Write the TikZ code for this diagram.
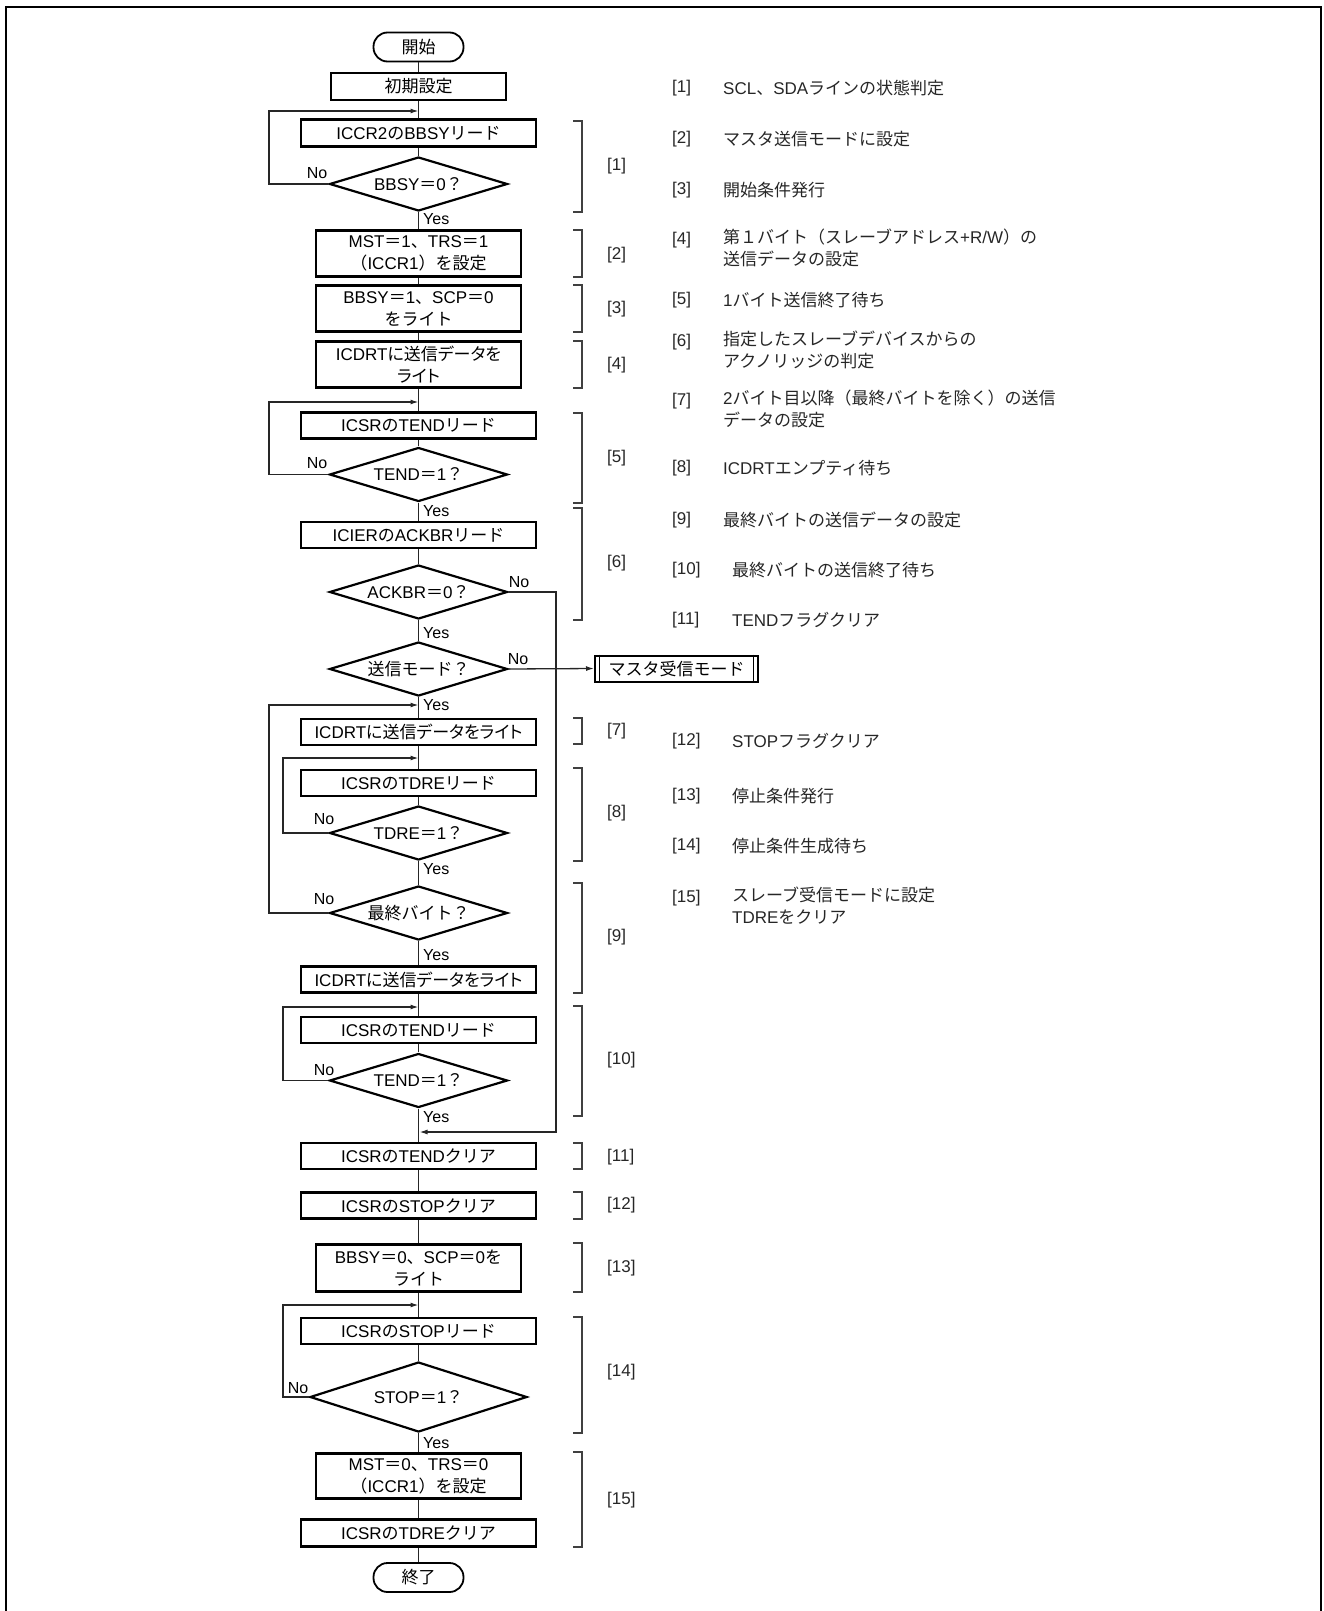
\documentclass[tikz,border=0pt]{standalone}
\usepackage{fontspec}
\setmainfont{Liberation Sans}
\newfontfamily\jpnormal{Noto Sans CJK JP}
\newfontfamily\jppalt{Noto Sans CJK JP}[RawFeature=+palt]
\usetikzlibrary{arrows.meta,shapes.geometric}
\chardef\JPclass=37
\newcount\jpcnt
\jpcnt="3000
\loop\ifnum\jpcnt<"A000 \XeTeXcharclass\jpcnt=\JPclass \advance\jpcnt by 1 \repeat
\jpcnt="FF00
\loop\ifnum\jpcnt<"FFF0 \XeTeXcharclass\jpcnt=\JPclass \advance\jpcnt by 1 \repeat
\newcommand\jpsel{\jpnormal}
\newcommand\usepalt{\def\jpsel{\jppalt}}
\XeTeXinterchartoks 0 \JPclass = {\jpsel}
\XeTeXinterchartoks 4095 \JPclass = {\jpsel}
\XeTeXinterchartoks \JPclass 0 = {\rmfamily}
\XeTeXinterchartoks \JPclass 4095 = {\rmfamily}
\XeTeXinterchartokenstate=1
\tikzset{
  every node/.style={font=\fontsize{17}{22}\selectfont, inner sep=0pt},
  proc/.style={draw, line width=2.2pt, minimum height=27pt, align=center},
  wbox/.style={proc, minimum width=235pt},
  nbox/.style={proc, minimum width=205pt},
  paltf/.style={font=\fontsize{17}{22}\selectfont\usepalt},
  dec/.style={draw, diamond, line width=2.2pt, aspect=3.3, minimum width=178pt, minimum height=54pt},
  term/.style={draw, rounded corners=14pt, line width=1.8pt, minimum width=90pt, minimum height=29pt},
  conn/.style={line width=1.3pt, draw=black!85},
  arr/.style={conn, -{Latex[length=8pt,width=5pt]}},
  brk/.style={line width=1.1pt, draw=black!75},
  yn/.style={font=\fontsize{16}{18}\selectfont},
  blbl/.style={anchor=west, text=black!85},
  rtxt/.style={anchor=north west, align=left, text=black!85},
}
\begin{document}
\begin{tikzpicture}[x=1pt,y=-1pt]
\useasboundingbox (0,0) rectangle (1323,1611);
% outer frame
\draw[line width=2pt] (6,1625) -- (6,7) -- (1321,7) -- (1321,1625);

% main column
\node[term] (start) at (418.5,47) {開始};
\node[proc, minimum width=175pt] (init) at (418.5,86.5) {初期設定};
\node[wbox] (b1) at (418.5,133) {ICCR2のBBSYリード};
\node[dec] (d1) at (418.5,184) {BBSY＝0？};
\node[nbox, minimum height=46pt] (b2) at (418.5,253.5) {MST＝1、TRS＝1\\（ICCR1）を設定};
\node[nbox, minimum height=46pt] (b3) at (418.5,308.5) {BBSY＝1、SCP＝0\\をライト};
\node[nbox, minimum height=46pt, paltf] (b4) at (418.5,364.5) {ICDRTに送信データを\\ライト};
\node[wbox, minimum height=26pt] (b5) at (418.5,425.5) {ICSRのTENDリード};
\node[dec] (d5) at (418.5,474.5) {TEND＝1？};
\node[wbox, minimum height=26pt] (b6) at (418.5,535) {ICIERのACKBRリード};
\node[dec] (d6) at (418.5,592) {ACKBR＝0？};
\node[dec] (d6b) at (418.5,669) {送信モード？};
\node[draw, line width=2pt, minimum width=163pt, minimum height=26pt] (mrx) at (676.5,668.5) {マスタ受信モード};
\node[wbox, minimum height=26pt, paltf] (b7) at (418.5,732) {ICDRTに送信データをライト};
\node[wbox, minimum height=26pt] (b8) at (418.5,783) {ICSRのTDREリード};
\node[dec] (d8) at (418.5,833) {TDRE＝1？};
\node[dec] (d9) at (418.5,913) {最終バイト？};
\node[wbox, minimum height=26pt, paltf] (b9) at (418.5,979.5) {ICDRTに送信データをライト};
\node[wbox, minimum height=26pt] (b10) at (418.5,1030) {ICSRのTENDリード};
\node[dec] (d10) at (418.5,1080.5) {TEND＝1？};
\node[wbox, minimum height=26pt] (b11) at (418.5,1156) {ICSRのTENDクリア};
\node[wbox, minimum height=26pt] (b12) at (418.5,1205.5) {ICSRのSTOPクリア};
\node[nbox, minimum height=47pt] (b13) at (418.5,1268) {BBSY＝0、SCP＝0を\\ライト};
\node[wbox, minimum height=26pt] (b14) at (418.5,1331) {ICSRのSTOPリード};
\node[dec, minimum width=217pt, minimum height=70pt, aspect=3] (d14) at (418.5,1397) {STOP＝1？};
\node[nbox, minimum height=45pt] (b15a) at (418.5,1476) {MST＝0、TRS＝0\\（ICCR1）を設定};
\node[wbox] (b15b) at (418.5,1533) {ICSRのTDREクリア};
\node[term] (end) at (418.5,1577.5) {終了};

% predefined process inner lines
\draw[line width=1.6pt] ([xshift=5.5pt]mrx.north west) -- ([xshift=5.5pt]mrx.south west);
\draw[line width=1.6pt] ([xshift=-5.5pt]mrx.north east) -- ([xshift=-5.5pt]mrx.south east);

% main chain
\draw[conn] (start) -- (init);
\draw[conn] (init) -- (b1);
\draw[conn] (b1) -- (d1);
\draw[conn] (d1) -- (b2);
\draw[conn] (b2) -- (b3);
\draw[conn] (b3) -- (b4);
\draw[conn] (b4) -- (b5);
\draw[conn] (b5) -- (d5);
\draw[conn] (d5) -- (b6);
\draw[conn] (b6) -- (d6);
\draw[conn] (d6) -- (d6b);
\draw[conn] (d6b) -- (b7);
\draw[conn] (b7) -- (b8);
\draw[conn] (b8) -- (d8);
\draw[conn] (d8) -- (d9);
\draw[conn] (d9) -- (b9);
\draw[conn] (b9) -- (b10);
\draw[conn] (b10) -- (d10);
\draw[conn] (d10) -- (b11);
\draw[conn] (b11) -- (b12);
\draw[conn] (b12) -- (b13);
\draw[conn] (b13) -- (b14);
\draw[conn] (b14) -- (d14);
\draw[conn] (d14) -- (b15a);
\draw[conn] (b15a) -- (b15b);
\draw[conn] (b15b) -- (end);

% loop coordinates
\coordinate (L1) at (269,0);
\coordinate (L2) at (283,0);
\coordinate (R1) at (556,0);
\coordinate (j1) at (418.5,111);
\coordinate (j5) at (418.5,402);
\coordinate (j7) at (418.5,705);
\coordinate (j8) at (418.5,758);
\coordinate (j10) at (418.5,1007);
\coordinate (j14) at (418.5,1305);
\coordinate (j11) at (419.5,1132);

\draw[arr] (d1.west) -| (L1 |- j1) -- (j1);
\draw[arr] (d5.west) -| (L1 |- j5) -- (j5);
\draw[arr] (d9.west) -| (L1 |- j7) -- (j7);
\draw[arr] (d8.west) -| (L2 |- j8) -- (j8);
\draw[arr] (d10.west) -| (L2 |- j10) -- (j10);
\draw[arr] (d14.west) -| (L2 |- j14) -- (j14);
\draw[arr] (d6.east) -| (R1 |- j11) -- (j11);
\draw[arr] (d6b.east) -- (mrx.west);

% Yes / No labels
\node[yn, anchor=west] (y1) at (423,219) {Yes};
\node[yn, anchor=west] (y5) at (423,511) {Yes};
\node[yn, anchor=west] (y6) at (423,633) {Yes};
\node[yn, anchor=west] (y6b) at (423,705) {Yes};
\node[yn, anchor=west] (y8) at (423,869) {Yes};
\node[yn, anchor=west] (y9) at (423,955) {Yes};
\node[yn, anchor=west] (y10) at (423,1117) {Yes};
\node[yn, anchor=west] (y14) at (423,1443) {Yes};
\node[yn] (n1) at (317,173) {No};
\node[yn] (n5) at (317,463) {No};
\node[yn] (n6) at (519,582) {No};
\node[yn] (n6b) at (518,659) {No};
\node[yn] (n8) at (324,819) {No};
\node[yn] (n9) at (324,899) {No};
\node[yn] (n10) at (324,1070) {No};
\node[yn] (n14) at (298,1388) {No};

% brackets
\foreach \ya/\yb/\yl/\t in {121/212/166/1, 230/277/255/2, 285/332/309/3, 341/388/365/4,
  413/503/458/5, 508/620/563/6, 718/744/731/7, 768/861/813/8, 883/993/937/9,
  1006/1116/1060/10, 1143/1169/1157/11, 1192/1219/1205/12, 1243/1292/1268/13,
  1317/1433/1372/14, 1452/1547/1500/15}{
  \draw[brk] (573,\ya) -- (582,\ya) -- (582,\yb) -- (573,\yb);
  \node[blbl] (bl\t) at (607,\yl) {[\t]};
}

% right-side legend
\foreach \yy/\t in {88/1,139/2,190/3,240/4,300/5,342/6,401/7,468/8,520/9,570/10,620/11,741/12,796/13,846/14,898/15}{
  \node[blbl] (rl\t) at (672,\yy) {[\t]};
}
\node[blbl] (r1) at (723,88) {SCL、SDAラインの状態判定};
\node[blbl] (r2) at (723,139) {マスタ送信モードに設定};
\node[blbl] (r3) at (723,190) {開始条件発行};
\node[rtxt] (r4) at (723,229) {第１バイト（スレーブアドレス+R/W）の\\送信データの設定};
\node[blbl] (r5) at (723,300) {1バイト送信終了待ち};
\node[rtxt] (r6) at (723,331) {指定したスレーブデバイスからの\\アクノリッジの判定};
\node[rtxt] (r7) at (723,390) {2バイト目以降（最終バイトを除く）の送信\\データの設定};
\node[blbl] (r8) at (723,468) {ICDRTエンプティ待ち};
\node[blbl] (r9) at (723,520) {最終バイトの送信データの設定};
\node[blbl] (r10) at (732,570) {最終バイトの送信終了待ち};
\node[blbl] (r11) at (732,620) {TENDフラグクリア};
\node[blbl] (r12) at (732,741) {STOPフラグクリア};
\node[blbl] (r13) at (732,796) {停止条件発行};
\node[blbl] (r14) at (732,846) {停止条件生成待ち};
\node[rtxt] (r15) at (732,887) {スレーブ受信モードに設定\\TDREをクリア};
\end{tikzpicture}
\end{document}
